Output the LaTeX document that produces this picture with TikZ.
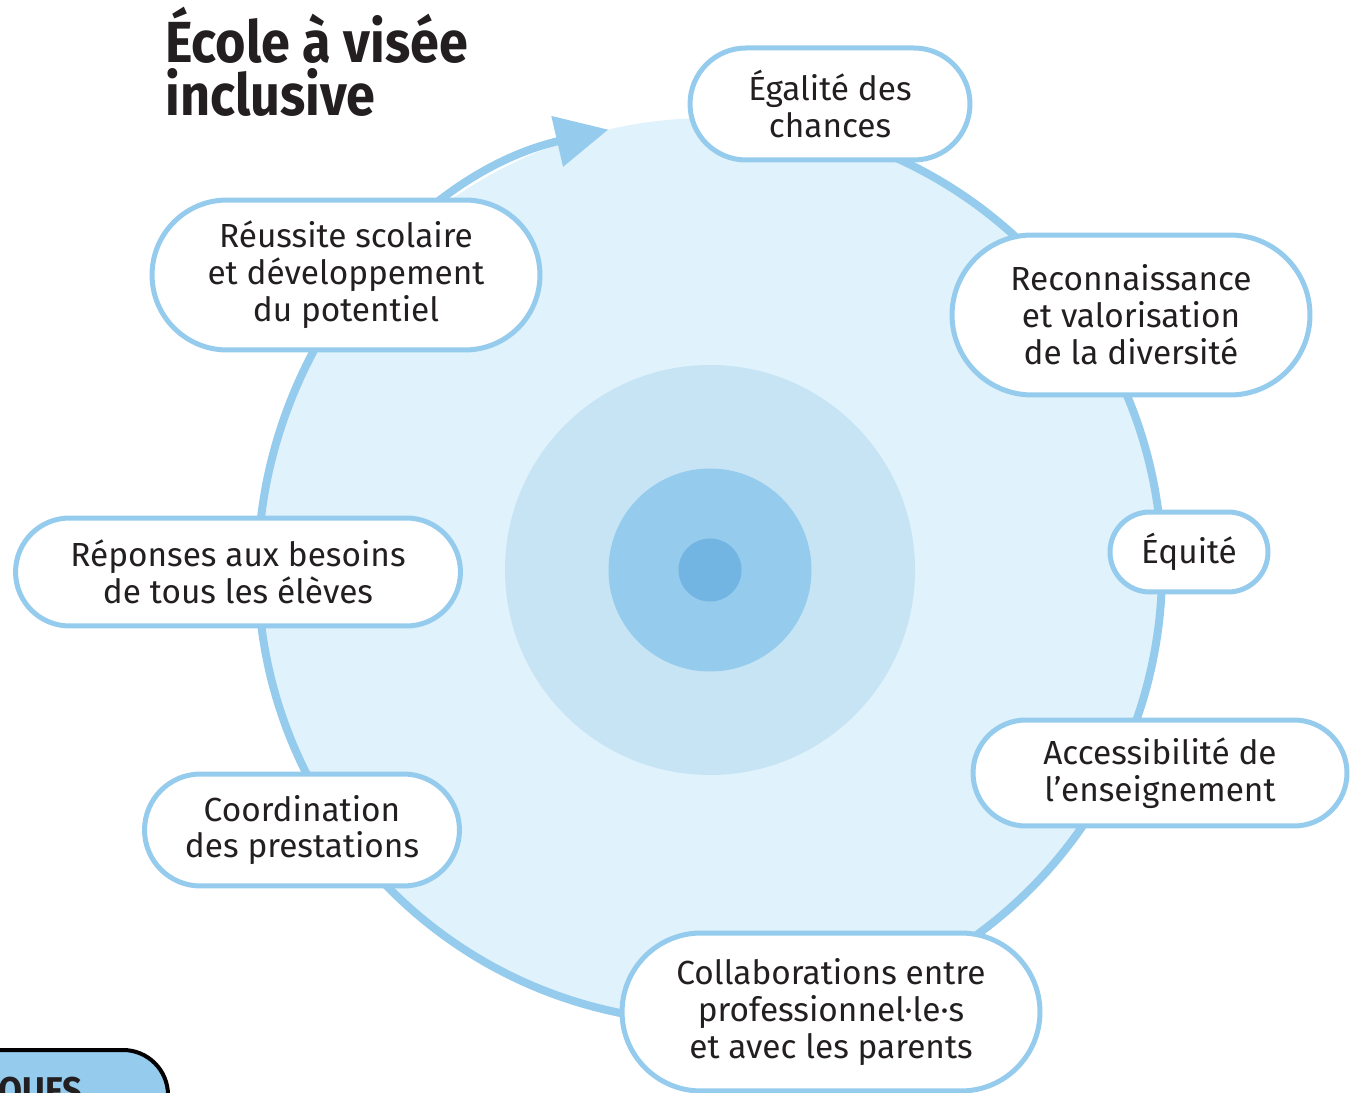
\documentclass[tikz,border=0pt]{standalone}
\usepackage{fontspec}
\setmainfont{Fira Sans}
\newfontfamily\titlefont[FakeStretch=0.9]{Fira Sans}
\usepackage{tikz}
\usetikzlibrary{arrows.meta,shapes.misc}

\definecolor{bleu}{HTML}{95CBEC}
\definecolor{fond}{HTML}{E0F2FB}
\definecolor{anneau}{HTML}{C7E4F5}
\definecolor{coeur}{HTML}{72B4E2}
\definecolor{encre}{HTML}{231F20}

\tikzset{
  etape/.style={rounded rectangle, draw=bleu, line width=0.1cm, fill=white,
    align=center, inner sep=0pt, text=encre,
    font=\fontsize{19pt}{21pt}\selectfont},
}

\begin{document}
\begin{tikzpicture}[x=0.02cm,y=0.02cm]

  \useasboundingbox (0,0) rectangle (1358,1092);
  \clip (0,0) rectangle (1358,1092);

  % cycle
  \coordinate (c) at (710,522);
  \fill[fond] (c) circle (452);
  \draw[bleu, line width=0.16cm, -{Triangle[length=1.05cm,width=1cm]}]
    (c) ++(80:452) arc[start angle=80, end angle=-257, radius=452];

  % cercles
  \foreach \r/\col in {205/anneau, 101.5/bleu, 31.5/coeur} {
      \fill[\col] (c) circle (\r);
    }

  % titre
  \node[anchor=north west, inner sep=0pt, align=left, text=encre,
    font=\titlefont\bfseries\fontsize{33pt}{30pt}\selectfont] (titre)
    at (165,1085) {École à visée\\inclusive};

  % etapes
  \node[etape, minimum width=5.6cm, minimum height=2.24cm] (egalite) at (830,988)
    {Égalité des\\chances};
  \node[etape, minimum width=7.16cm, minimum height=3.2cm] (reconnaissance) at (1131,777)
    {Reconnaissance\\et valorisation\\de la diversité};
  \node[etape, minimum width=3.16cm, minimum height=1.6cm] (equite) at (1189,540)
    {Équité};
  \node[etape, minimum width=7.48cm, minimum height=2.12cm] (accessibilite) at (1160,319)
    {Accessibilité de\\l’enseignement};
  \node[etape, minimum width=8.36cm, minimum height=3.16cm] (collaborations) at (831,80)
    {Collaborations entre\\professionnel·le·s\\et avec les parents};
  \node[etape, minimum width=6.3cm, minimum height=2.24cm] (coordination) at (302,262)
    {Coordination\\des prestations};
  \node[etape, minimum width=8.9cm, minimum height=2.16cm] (reponses) at (238,520)
    {Réponses aux besoins\\de tous les élèves};
  \node[etape, minimum width=7.76cm, minimum height=3cm] (reussite) at (346,817)
    {Réussite scolaire\\et développement\\du potentiel};

  % encart voisin
  \draw[black, line width=0.08cm, fill=bleu, rounded corners=0.9cm]
    (-60,-60) rectangle (168,42);
  \node[anchor=base west, inner sep=0pt, text=encre,
    font=\titlefont\bfseries\fontsize{22pt}{24pt}\selectfont] (ques) at (-2,-12) {QUES};
\end{tikzpicture}
\end{document}
